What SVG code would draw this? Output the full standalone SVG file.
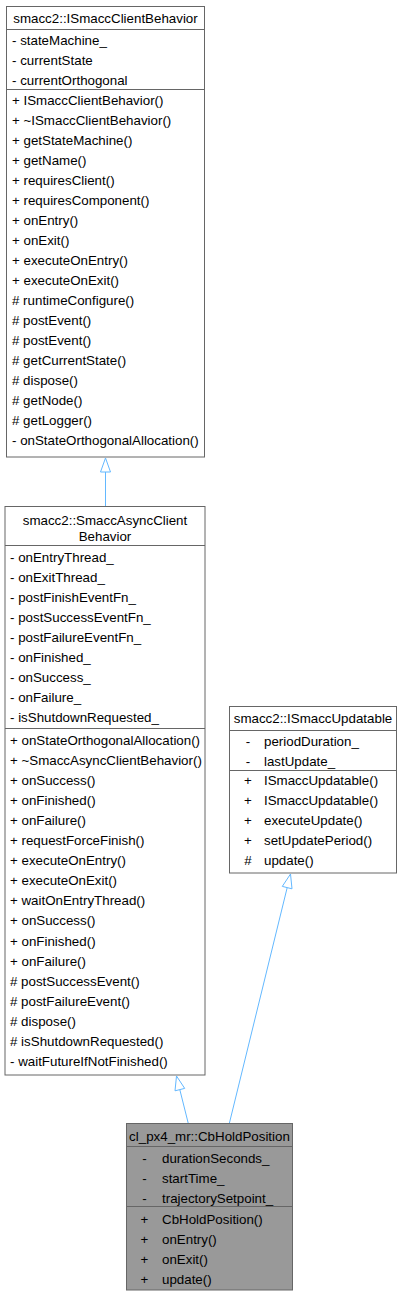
<svg xmlns="http://www.w3.org/2000/svg" width="402" height="1297" viewBox="0 0 402 1297">
<style>
text{font-family:"Liberation Sans",Arial,Helvetica,sans-serif;font-size:13.33px;fill:#000}
.box{fill:#fff;stroke:#666;stroke-width:1}
.cur{fill:#999;stroke:#666;stroke-width:1}
.sep{stroke:#666;stroke-width:1}
.c{text-anchor:middle}
.edge{stroke:#63b8ff;stroke-width:1;fill:none}
.head{fill:#fff;stroke:#63b8ff;stroke-width:1}
</style>
<rect width="402" height="1297" fill="#fff"/>
<g id="connectors">
<line class="edge" x1="105.5" y1="506.5" x2="105.5" y2="472"/>
<polygon class="head" points="105.5,458 110.5,472 100.5,472"/>
<line class="edge" x1="188.3" y1="1123.5" x2="179.8" y2="1089.6"/>
<polygon class="head" points="176.5,1076 184.7,1088.4 175,1090.8"/>
<line class="edge" x1="229.3" y1="1123.5" x2="287.2" y2="887.6"/>
<polygon class="head" points="290.5,874 292,888.8 282.3,886.4"/>
</g>
<g id="ISmaccClientBehavior">
<rect class="box" x="6.5" y="6.5" width="198" height="450.5"/>
<line class="sep" x1="6.5" y1="29.5" x2="204.5" y2="29.5"/>
<line class="sep" x1="6.5" y1="89.5" x2="204.5" y2="89.5"/>
<text class="c" x="105.5" y="23">smacc2::ISmaccClientBehavior</text>
<text x="12" y="45">- stateMachine_</text>
<text x="12" y="65">- currentState</text>
<text x="12" y="85">- currentOrthogonal</text>
<text x="12" y="104.5">+ ISmaccClientBehavior()</text>
<text x="12" y="124.5">+ ~ISmaccClientBehavior()</text>
<text x="12" y="144.5">+ getStateMachine()</text>
<text x="12" y="164.5">+ getName()</text>
<text x="12" y="184.5">+ requiresClient()</text>
<text x="12" y="204.5">+ requiresComponent()</text>
<text x="12" y="224.5">+ onEntry()</text>
<text x="12" y="244.5">+ onExit()</text>
<text x="12" y="264.5">+ executeOnEntry()</text>
<text x="12" y="284.5">+ executeOnExit()</text>
<text x="12" y="304.5"># runtimeConfigure()</text>
<text x="12" y="324.5"># postEvent()</text>
<text x="12" y="344.5"># postEvent()</text>
<text x="12" y="364.5"># getCurrentState()</text>
<text x="12" y="384.5"># dispose()</text>
<text x="12" y="404.5"># getNode()</text>
<text x="12" y="424.5"># getLogger()</text>
<text x="12" y="444.5">- onStateOrthogonalAllocation()</text>
</g>
<g id="SmaccAsyncClientBehavior">
<rect class="box" x="5" y="506.5" width="200" height="568.5"/>
<line class="sep" x1="5" y1="545.5" x2="205" y2="545.5"/>
<line class="sep" x1="5" y1="728.5" x2="205" y2="728.5"/>
<text class="c" x="105" y="525">smacc2::SmaccAsyncClient</text>
<text class="c" x="105" y="541">Behavior</text>
<text x="10" y="561.5">- onEntryThread_</text>
<text x="10" y="581.6">- onExitThread_</text>
<text x="10" y="601.7">- postFinishEventFn_</text>
<text x="10" y="621.8">- postSuccessEventFn_</text>
<text x="10" y="641.9">- postFailureEventFn_</text>
<text x="10" y="662">- onFinished_</text>
<text x="10" y="682.1">- onSuccess_</text>
<text x="10" y="702.2">- onFailure_</text>
<text x="10" y="722.3">- isShutdownRequested_</text>
<text x="10" y="744.5">+ onStateOrthogonalAllocation()</text>
<text x="10" y="764.6">+ ~SmaccAsyncClientBehavior()</text>
<text x="10" y="784.7">+ onSuccess()</text>
<text x="10" y="804.8">+ onFinished()</text>
<text x="10" y="824.9">+ onFailure()</text>
<text x="10" y="845">+ requestForceFinish()</text>
<text x="10" y="865.1">+ executeOnEntry()</text>
<text x="10" y="885.2">+ executeOnExit()</text>
<text x="10" y="905.3">+ waitOnEntryThread()</text>
<text x="10" y="925.4">+ onSuccess()</text>
<text x="10" y="945.5">+ onFinished()</text>
<text x="10" y="965.6">+ onFailure()</text>
<text x="10" y="985.7"># postSuccessEvent()</text>
<text x="10" y="1005.8"># postFailureEvent()</text>
<text x="10" y="1025.9"># dispose()</text>
<text x="10" y="1046"># isShutdownRequested()</text>
<text x="10" y="1066.1">- waitFutureIfNotFinished()</text>
</g>
<g id="ISmaccUpdatable">
<rect class="box" x="229.5" y="706.5" width="167" height="166.5"/>
<line class="sep" x1="229.5" y1="730.5" x2="396.5" y2="730.5"/>
<line class="sep" x1="229.5" y1="770.5" x2="396.5" y2="770.5"/>
<text class="c" x="313" y="723">smacc2::ISmaccUpdatable</text>
<text class="c" x="248" y="746">-</text><text x="264" y="746">periodDuration_</text>
<text class="c" x="248" y="766">-</text><text x="264" y="766">lastUpdate_</text>
<text class="c" x="248" y="785">+</text><text x="264" y="785">ISmaccUpdatable()</text>
<text class="c" x="248" y="805">+</text><text x="264" y="805">ISmaccUpdatable()</text>
<text class="c" x="248" y="825">+</text><text x="264" y="825">executeUpdate()</text>
<text class="c" x="248" y="845">+</text><text x="264" y="845">setUpdatePeriod()</text>
<text class="c" x="248" y="865">#</text><text x="264" y="865">update()</text>
</g>
<g id="CbHoldPosition">
<rect class="cur" x="126.5" y="1123.5" width="166" height="166.5"/>
<line class="sep" x1="126.5" y1="1146.5" x2="292.5" y2="1146.5"/>
<line class="sep" x1="126.5" y1="1206.5" x2="292.5" y2="1206.5"/>
<text class="c" x="209.5" y="1140.5">cl_px4_mr::CbHoldPosition</text>
<text class="c" x="144.5" y="1162.5">-</text><text x="162" y="1162.5">durationSeconds_</text>
<text class="c" x="144.5" y="1182.5">-</text><text x="162" y="1182.5">startTime_</text>
<text class="c" x="144.5" y="1202.5">-</text><text x="162" y="1202.5">trajectorySetpoint_</text>
<text class="c" x="144.5" y="1223.5">+</text><text x="162" y="1223.5">CbHoldPosition()</text>
<text class="c" x="144.5" y="1243.5">+</text><text x="162" y="1243.5">onEntry()</text>
<text class="c" x="144.5" y="1263.5">+</text><text x="162" y="1263.5">onExit()</text>
<text class="c" x="144.5" y="1283.5">+</text><text x="162" y="1283.5">update()</text>
</g>
</svg>
